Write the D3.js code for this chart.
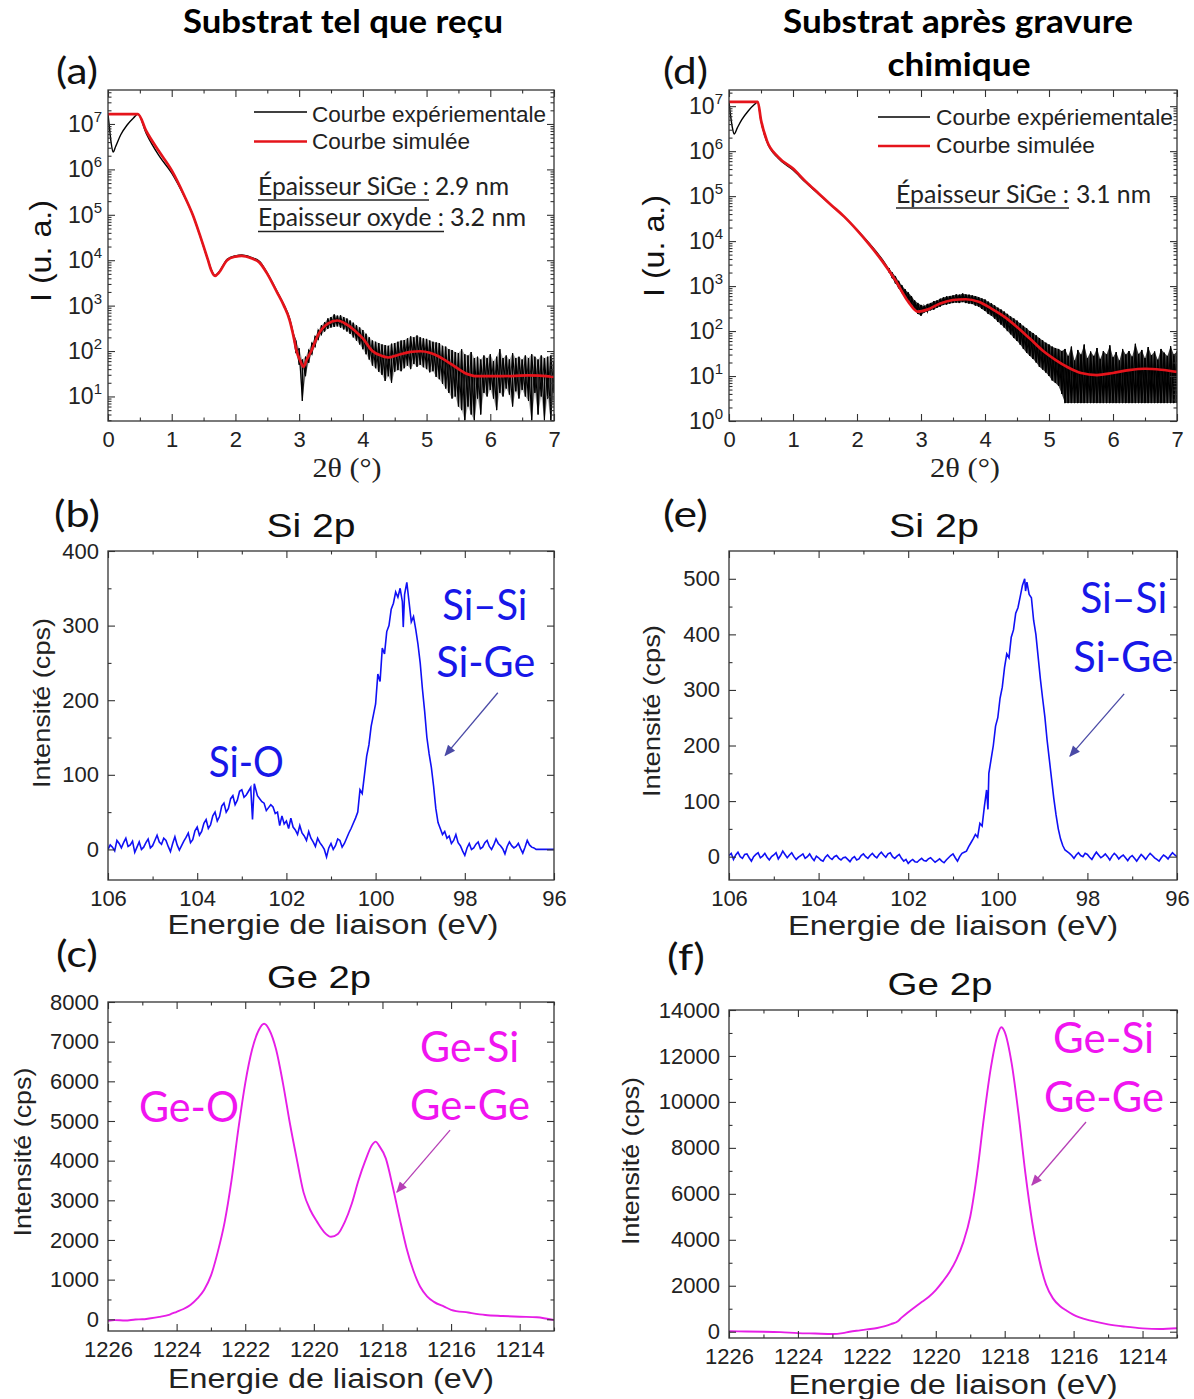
<!DOCTYPE html>
<html><head><meta charset="utf-8">
<script src="https://cdn.jsdelivr.net/npm/d3@7"></script>
<style>body{margin:0;background:#fff}svg{display:block}</style>
</head><body>
<svg id="fig" width="1194" height="1399"></svg>
<script>
// ================= DATA =================
// XRR ticks
const xrrTicksX = [0,1,2,3,4,5,6,7];
const xrrMinorX = [0.5,1.5,2.5,3.5,4.5,5.5,6.5];
const xrrTicksYA = [1e1,1e2,1e3,1e4,1e5,1e6,1e7];
const xrrTicksYD = [1e0,1e1,1e2,1e3,1e4,1e5,1e6,1e7];

// (a) XRR as received : simulated curve [2theta, I]
const simA = [[0,1.65e7],[0.47,1.65e7],[0.6,7e6],[0.8,2.5e6],[1.0,9.5e5],[1.2,2.6e5],[1.33,1.0e5],[1.45,3.3e4],[1.57,1.0e4],[1.62,6.0e3],[1.68,4.5e3],[1.74,5.3e3],[1.87,1.0e4],[2.0,1.2e4],[2.1,1.25e4],[2.25,1.1e4],[2.38,8.8e3],[2.5,5e3],[2.65,2.0e3],[2.76,1.0e3],[2.85,480],[2.9,250],[2.96,100],[3.02,60],[3.07,45],[3.12,65],[3.19,100],[3.3,230],[3.45,400],[3.6,470],[3.75,380],[3.9,260],[4.0,190],[4.15,100],[4.3,78],[4.4,72],[4.55,82],[4.75,96],[4.9,99],[5.05,92],[5.2,75],[5.4,50],[5.6,33],[5.8,28],[6.2,28],[6.6,29],[7.0,27]];
// (a) experimental, smooth part [2theta, I]
const expA = [[0,1.65e7],[0.02,9e6],[0.05,3.8e6],[0.08,2.4e6],[0.12,3.2e6],[0.2,5.8e6],[0.3,9.5e6],[0.4,1.35e7],[0.47,1.65e7],[0.6,6.2e6],[0.8,2.0e6],[1.0,8.3e5],[1.2,2.5e5],[1.33,1.0e5],[1.45,3.3e4],[1.57,1.0e4],[1.62,6.2e3],[1.68,4.6e3],[1.74,5.5e3],[1.87,1.05e4],[2.0,1.25e4],[2.1,1.3e4],[2.25,1.15e4],[2.38,9.4e3],[2.5,5.2e3],[2.65,2.1e3],[2.76,1.05e3],[2.85,520],[2.9,270]];
// (a) experimental, noisy part [2theta, low, high]
const expANoise = [[2.95,90,170],[3.0,50,115],[3.05,8,65],[3.1,28,75],[3.15,55,105],[3.2,85,150],[3.25,125,210],[3.3,180,290],[3.35,230,370],[3.4,270,430],[3.45,310,520],[3.5,330,560],[3.55,340,640],[3.6,350,600],[3.65,330,610],[3.7,300,560],[3.75,270,520],[3.8,240,470],[3.85,200,420],[3.9,170,370],[3.95,140,330],[4.0,110,290],[4.05,85,240],[4.1,65,200],[4.15,48,170],[4.2,42,160],[4.25,35,150],[4.3,30,140],[4.35,22,135],[4.4,28,130],[4.45,20,145],[4.5,35,150],[4.55,38,160],[4.6,36,170],[4.65,42,175],[4.7,48,190],[4.75,40,210],[4.8,52,200],[4.85,45,220],[4.9,50,200],[4.95,44,190],[5.0,40,185],[5.05,34,170],[5.1,36,160],[5.15,27,155],[5.2,24,150],[5.25,19,130],[5.3,15,125],[5.35,12,110],[5.4,9,105],[5.45,10,95],[5.5,6,90],[5.55,5,110],[5.6,3,85],[5.65,6,80],[5.7,4,95],[5.75,3,70],[5.8,9,75],[5.85,4,65],[5.9,12,80],[5.95,10,70],[6.0,14,85],[6.05,9,60],[6.1,5,75],[6.15,12,110],[6.2,10,70],[6.25,15,80],[6.3,11,65],[6.35,6,90],[6.4,13,70],[6.45,9,75],[6.5,14,65],[6.55,10,80],[6.6,8,70],[6.65,3,85],[6.7,12,75],[6.75,4,65],[6.8,10,80],[6.85,3,70],[6.9,9,75],[6.95,3,80],[7.0,12,60]];

// (d) XRR after etching
const simD = [[0,1.25e7],[0.45,1.25e7],[0.5,4.9e6],[0.59,1.74e6],[0.77,7.4e5],[1.0,4.1e5],[1.2,2.1e5],[1.4,1.15e5],[1.6,6.3e4],[1.8,3.5e4],[2.0,1.75e4],[2.2,8.1e3],[2.4,3.5e3],[2.6,1.35e3],[2.8,450],[2.95,270],[3.1,300],[3.3,410],[3.5,490],[3.7,510],[3.9,447],[4.1,316],[4.3,209],[4.5,123],[4.7,68],[4.9,37],[5.1,23],[5.3,15.5],[5.5,11.7],[5.75,10.5],[6.0,11.7],[6.25,13.5],[6.5,14.5],[6.75,13.8],[7.0,12.3]];
const expD = [[0,1.25e7],[0.02,7e6],[0.05,3.5e6],[0.08,2.4e6],[0.13,3.3e6],[0.2,5e6],[0.3,7.8e6],[0.4,1.1e7],[0.45,1.25e7],[0.5,4.7e6],[0.59,1.65e6],[0.77,6.9e5],[1.0,3.8e5],[1.2,2.0e5],[1.4,1.12e5],[1.6,6.2e4],[1.8,3.5e4],[2.0,1.8e4],[2.2,8.6e3],[2.4,3.8e3],[2.5,2.3e3]];
const expDNoise = [[2.5,2000,2500],[2.55,1500,2000],[2.6,1150,1650],[2.65,900,1300],[2.7,700,1050],[2.75,560,850],[2.8,450,720],[2.85,360,600],[2.9,300,480],[2.95,240,420],[3.0,220,380],[3.05,260,360],[3.1,270,400],[3.15,290,420],[3.2,300,460],[3.25,330,480],[3.3,350,520],[3.35,380,560],[3.4,390,590],[3.45,410,600],[3.5,420,620],[3.55,430,650],[3.6,420,640],[3.65,440,680],[3.7,420,650],[3.75,410,640],[3.8,400,620],[3.85,370,600],[3.9,350,570],[3.95,310,530],[4.0,280,500],[4.05,240,450],[4.1,220,410],[4.15,190,370],[4.2,160,330],[4.25,140,300],[4.3,120,270],[4.35,100,240],[4.4,85,210],[4.45,70,190],[4.5,60,170],[4.55,50,150],[4.6,40,130],[4.65,33,115],[4.7,28,100],[4.75,24,90],[4.8,20,80],[4.85,16,70],[4.9,14,62],[4.95,12,55],[5.0,10,50],[5.05,8,45],[5.1,7,42],[5.15,6,40],[5.2,4,36],[5.25,2.5,40],[5.3,2.5,28],[5.35,2.5,45],[5.4,2.5,22],[5.45,2.5,38],[5.5,2.5,30],[5.55,2.5,50],[5.6,2.5,25],[5.65,2.5,35],[5.7,2.5,28],[5.75,2.5,42],[5.8,2.5,24],[5.85,2.5,36],[5.9,2.5,30],[5.95,2.5,48],[6.0,2.5,26],[6.05,2.5,34],[6.1,2.5,22],[6.15,2.5,40],[6.2,2.5,30],[6.25,2.5,36],[6.3,2.5,27],[6.35,2.5,52],[6.4,2.5,31],[6.45,2.5,38],[6.5,2.5,25],[6.55,2.5,44],[6.6,2.5,29],[6.65,2.5,35],[6.7,2.5,23],[6.75,2.5,40],[6.8,2.5,33],[6.85,2.5,28],[6.9,2.5,46],[6.95,2.5,30],[7.0,2.5,35]];

// XPS Si 2p
const siTicksX = [106,104,102,100,98,96];
const siMinorX = [105,103,101,99,97];
const siTicksYB = [0,100,200,300,400];
const siTicksYE = [0,100,200,300,400,500];
const siSpectrumB = [[106.0,0],[105.95,6],[105.9,3],[105.85,-2],[105.8,12],[105.75,8],[105.7,2],[105.65,9],[105.6,15],[105.55,4],[105.5,6],[105.45,11],[105.4,-4],[105.35,3],[105.3,10],[105.25,0],[105.2,3],[105.15,9],[105.1,14],[105.05,2],[105.0,5],[104.95,12],[104.9,19],[104.85,10],[104.8,7],[104.75,15],[104.7,12],[104.65,4],[104.6,-3],[104.55,8],[104.5,17],[104.45,6],[104.4,-1],[104.35,5],[104.3,11],[104.25,16],[104.2,22],[104.15,9],[104.1,13],[104.05,25],[104.0,30],[103.95,19],[103.9,24],[103.85,35],[103.8,40],[103.75,28],[103.7,33],[103.65,45],[103.6,50],[103.55,38],[103.5,44],[103.45,58],[103.4,62],[103.35,50],[103.3,55],[103.25,68],[103.2,72],[103.15,60],[103.1,66],[103.05,78],[103.0,80],[102.95,70],[102.9,73],[102.85,78],[102.8,83],[102.76,40],[102.72,88],[102.65,72],[102.6,68],[102.55,64],[102.5,62],[102.45,52],[102.4,56],[102.35,60],[102.3,57],[102.25,48],[102.2,50],[102.15,32],[102.1,45],[102.05,34],[102.0,38],[101.95,28],[101.9,42],[101.85,30],[101.8,26],[101.75,20],[101.7,32],[101.65,22],[101.6,18],[101.55,12],[101.5,24],[101.45,15],[101.4,10],[101.35,4],[101.3,15],[101.25,9],[101.2,5],[101.15,0],[101.1,-10],[101.05,2],[101.0,8],[100.95,0],[100.9,5],[100.85,14],[100.8,12],[100.75,3],[100.7,8],[100.65,15],[100.6,22],[100.55,28],[100.5,35],[100.45,42],[100.4,50],[100.35,80],[100.3,75],[100.25,100],[100.2,125],[100.15,140],[100.1,165],[100.05,180],[100.0,195],[99.95,235],[99.9,225],[99.85,270],[99.8,262],[99.75,292],[99.7,300],[99.65,322],[99.6,330],[99.55,345],[99.5,338],[99.45,350],[99.4,332],[99.38,298],[99.35,342],[99.3,358],[99.25,332],[99.2,305],[99.15,312],[99.1,295],[99.05,275],[99.0,250],[98.95,215],[98.9,185],[98.85,150],[98.8,128],[98.75,110],[98.7,85],[98.65,55],[98.6,36],[98.55,28],[98.5,20],[98.45,24],[98.4,15],[98.35,18],[98.3,8],[98.25,12],[98.2,20],[98.15,9],[98.1,5],[98.05,-2],[98.0,-8],[97.95,2],[97.9,8],[97.85,0],[97.8,2],[97.75,7],[97.7,10],[97.65,1],[97.6,3],[97.55,9],[97.5,12],[97.45,4],[97.4,0],[97.35,6],[97.3,14],[97.25,8],[97.2,5],[97.15,1],[97.1,-6],[97.05,4],[97.0,10],[96.95,5],[96.9,2],[96.85,4],[96.8,8],[96.75,1],[96.7,-5],[96.65,3],[96.6,12],[96.55,6],[96.5,3],[96.45,2],[96.4,0],[96.0,0]];
const siSpectrumE = [[106.0,2],[105.95,6],[105.9,-5],[105.85,3],[105.8,8],[105.75,0],[105.7,-3],[105.65,4],[105.6,5],[105.55,-2],[105.5,-8],[105.45,0],[105.4,4],[105.35,7],[105.3,-2],[105.25,1],[105.2,6],[105.15,-1],[105.1,-6],[105.05,0],[105.0,3],[104.95,7],[104.9,-4],[104.85,2],[104.8,10],[104.75,4],[104.7,-2],[104.65,3],[104.6,7],[104.55,0],[104.5,-5],[104.45,-1],[104.4,2],[104.35,5],[104.3,-3],[104.25,0],[104.2,5],[104.15,-2],[104.1,-7],[104.05,1],[104.0,-2],[103.95,-6],[103.9,-8],[103.85,-1],[103.8,3],[103.75,-2],[103.7,-5],[103.65,0],[103.6,2],[103.55,-3],[103.5,-6],[103.45,-2],[103.4,-1],[103.35,-5],[103.3,-9],[103.25,-3],[103.2,0],[103.15,-6],[103.1,-4],[103.05,2],[103.0,5],[102.95,0],[102.9,-3],[102.85,2],[102.8,6],[102.75,1],[102.7,-2],[102.65,4],[102.6,8],[102.55,3],[102.5,-1],[102.45,5],[102.4,7],[102.35,0],[102.3,-3],[102.25,1],[102.2,4],[102.15,-3],[102.1,-8],[102.05,-5],[102.0,-12],[101.95,-8],[101.9,-5],[101.85,-9],[101.8,-10],[101.75,-6],[101.7,-3],[101.65,-7],[101.6,-8],[101.55,-4],[101.5,-2],[101.45,-6],[101.4,-10],[101.35,-7],[101.3,-4],[101.25,-8],[101.2,-11],[101.15,-6],[101.1,-2],[101.05,2],[101.0,5],[100.95,-2],[100.9,-8],[100.85,0],[100.8,6],[100.75,8],[100.7,10],[100.65,18],[100.6,25],[100.55,32],[100.5,40],[100.45,35],[100.4,60],[100.35,55],[100.3,90],[100.25,120],[100.22,85],[100.2,150],[100.15,175],[100.1,200],[100.05,235],[100.0,250],[99.95,285],[99.9,305],[99.85,340],[99.8,365],[99.75,358],[99.7,395],[99.65,408],[99.6,438],[99.55,448],[99.5,468],[99.45,488],[99.4,500],[99.38,478],[99.35,494],[99.3,472],[99.25,466],[99.2,425],[99.15,400],[99.1,360],[99.05,320],[99.0,285],[98.95,252],[98.9,210],[98.85,175],[98.8,140],[98.75,105],[98.7,75],[98.65,50],[98.6,32],[98.55,20],[98.5,12],[98.45,9],[98.4,6],[98.35,2],[98.3,-3],[98.25,3],[98.2,7],[98.15,2],[98.1,0],[98.05,6],[98.0,4],[97.95,-1],[97.9,-5],[97.85,2],[97.8,8],[97.75,3],[97.7,-2],[97.65,1],[97.6,5],[97.55,0],[97.5,-6],[97.45,1],[97.4,6],[97.35,2],[97.3,-4],[97.25,0],[97.2,3],[97.15,-2],[97.1,-7],[97.05,-1],[97.0,2],[96.95,-3],[96.9,-8],[96.85,-2],[96.8,4],[96.75,0],[96.7,-5],[96.65,1],[96.6,6],[96.55,2],[96.5,-2],[96.45,-5],[96.4,-8],[96.35,-2],[96.3,3],[96.25,0],[96.2,-4],[96.15,2],[96.1,7],[96.05,3],[96.0,0]];

// XPS Ge 2p
const geTicksX = [1226,1224,1222,1220,1218,1216,1214];
const geMinorX = [1225,1223,1221,1219,1217,1215,1213];
const geTicksYC = [0,1000,2000,3000,4000,5000,6000,7000,8000];
const geTicksYF = [0,2000,4000,6000,8000,10000,12000,14000];
const geSpectrumC = [[1226,-40],[1225.8,-20],[1225.5,-30],[1225.2,-5],[1225,0],[1224.8,20],[1224.5,60],[1224.2,120],[1224,190],[1223.8,260],[1223.6,360],[1223.4,520],[1223.2,740],[1223,1100],[1222.8,1700],[1222.6,2450],[1222.4,3500],[1222.2,4800],[1222,5950],[1221.8,6800],[1221.6,7300],[1221.45,7450],[1221.3,7300],[1221.1,6800],[1220.9,5950],[1220.7,4950],[1220.5,4050],[1220.3,3200],[1220.1,2750],[1219.9,2450],[1219.7,2200],[1219.5,2080],[1219.3,2150],[1219.1,2450],[1218.9,2900],[1218.7,3500],[1218.5,4000],[1218.3,4400],[1218.2,4480],[1218.1,4380],[1217.9,4050],[1217.7,3340],[1217.5,2550],[1217.3,1800],[1217.1,1230],[1216.9,820],[1216.7,580],[1216.5,440],[1216.2,320],[1216,240],[1215.5,170],[1215,110],[1214.5,85],[1214,65],[1213.5,50],[1213,-20]];
const geSpectrumF = [[1226,20],[1225.5,10],[1225,0],[1224.5,-20],[1224,-60],[1223.5,-80],[1223,-100],[1222.7,-60],[1222.5,0],[1222.2,60],[1222,100],[1221.7,160],[1221.5,230],[1221.3,330],[1221.1,460],[1221,600],[1220.8,850],[1220.6,1080],[1220.4,1300],[1220.2,1520],[1220,1810],[1219.8,2180],[1219.6,2600],[1219.4,3150],[1219.2,3900],[1219,5000],[1218.8,6900],[1218.6,9350],[1218.4,11500],[1218.2,12950],[1218.1,13250],[1218,13050],[1217.8,11700],[1217.6,9500],[1217.4,6900],[1217.2,4750],[1217,3150],[1216.8,2050],[1216.6,1450],[1216.4,1120],[1216.2,910],[1216,730],[1215.5,480],[1215,320],[1214.5,220],[1214,145],[1213.5,115],[1213,150]];

// annotation anchors in data units
const annB = {siSi:[97.55,307], siGe:[97.53,231], siO:[102.9,97], arrow:[[97.26,210],[98.44,126]]};
const annE = {siSi:[97.19,439], siGe:[97.2,333], arrow:[[97.18,293],[98.39,181]]};
const annC = {geSi:[1215.46,6481], geGe:[1215.45,5020], geO:[1223.64,4970], arrow:[[1216.03,4768],[1217.58,3207]]};
const annF = {geSi:[1215.13,12128], geGe:[1215.12,9560], arrow:[[1215.64,9125],[1217.21,6384]]};

// ================= DRAWING =================
const svg = d3.select("#fig");
const SANS = "'Liberation Sans', Arial, Helvetica, sans-serif";
const CAL = "Lato, 'Open Sans', sans-serif";
const SERIF = "'Liberation Serif', 'Times New Roman', serif";
const defs = svg.append("defs");

function txt(x,y,s,o={}){
  const t = svg.append("text").attr("x",x).attr("y",y).text(s)
    .attr("font-family",o.ff||SANS).attr("font-size",o.fs||21)
    .attr("fill",o.fill||"#111").attr("text-anchor",o.anchor||"start");
  if(o.fw) t.attr("font-weight",o.fw);
  if(o.len) t.attr("textLength",o.len).attr("lengthAdjust","spacingAndGlyphs");
  if(o.rot) t.attr("transform",`rotate(-90,${x},${y})`);
  return t;
}

function panel(o){
  const x = d3.scaleLinear().domain(o.xd).range([o.l,o.r]);
  const y = (o.log?d3.scaleLog():d3.scaleLinear()).domain(o.yd).range([o.b,o.t]);
  defs.append("clipPath").attr("id","clip"+o.id).append("rect")
    .attr("x",o.l).attr("y",o.t).attr("width",o.r-o.l).attr("height",o.b-o.t);
  const plot = svg.append("g").attr("clip-path",`url(#clip${o.id})`);
  return {x,y,plot,o};
}

function axes(P){
  const {x,y,o} = P;
  const g = svg.append("g");
  const mk = (axis,tr,vals,size,lab,pad,fmt)=>{
    const a = g.append("g").attr("transform",tr)
      .call(axis.tickValues(vals).tickSizeInner(-size).tickSizeOuter(0)
        .tickPadding(lab?pad:0).tickFormat(lab?fmt:()=>""));
    a.select(".domain").remove();
    a.selectAll(".tick line").attr("stroke","#333").attr("stroke-width",1.1);
    a.selectAll("text").attr("font-family",SANS).attr("font-size",22).attr("fill","#222");
    return a;
  };
  const fmt = d3.format("d");
  mk(d3.axisBottom(x),`translate(0,${o.b})`,o.xt,7,true,10,fmt);
  mk(d3.axisBottom(x),`translate(0,${o.b})`,o.xm,3.5,false);
  mk(d3.axisTop(x),`translate(0,${o.t})`,o.xt,7,false);
  mk(d3.axisTop(x),`translate(0,${o.t})`,o.xm,3.5,false);
  let ym;
  if(o.log){
    ym = y.ticks().filter(v=>Math.abs(Math.log10(v)-Math.round(Math.log10(v)))>1e-6);
  } else ym = o.ym;
  const la = mk(d3.axisLeft(y),`translate(${o.l},0)`,o.yt,7,true,o.log?6:9,fmt);
  mk(d3.axisLeft(y),`translate(${o.l},0)`,ym,3.5,false);
  mk(d3.axisRight(y),`translate(${o.r},0)`,o.yt,7,false);
  mk(d3.axisRight(y),`translate(${o.r},0)`,ym,3.5,false);
  if(o.log){
    la.selectAll(".tick text").each(function(d){
      const t = d3.select(this); const e = Math.round(Math.log10(d));
      t.text(null).attr("font-size",23);
      t.append("tspan").text("10");
      t.append("tspan").attr("dy",-10).attr("font-size",15).text(e);
    });
  }
  svg.append("rect").attr("x",o.l).attr("y",o.t).attr("width",o.r-o.l).attr("height",o.b-o.t)
    .attr("fill","none").attr("stroke","#333").attr("stroke-width",1.3);
}

function marker(id,color){
  defs.append("marker").attr("id",id).attr("viewBox","0 0 10 10").attr("refX",9).attr("refY",5)
    .attr("markerWidth",12).attr("markerHeight",11).attr("markerUnits","userSpaceOnUse")
    .attr("orient","auto").append("path").attr("d","M0,0.8 L10,5 L0,9.2 z").attr("fill",color);
}
marker("arrB","#4a4aa6");
marker("arrM","#b640b6");

function arrow(P,a,color,mid){
  svg.append("line").attr("x1",P.x(a[0][0])).attr("y1",P.y(a[0][1]))
    .attr("x2",P.x(a[1][0])).attr("y2",P.y(a[1][1]))
    .attr("stroke",color).attr("stroke-width",1.3).attr("marker-end",`url(#${mid})`);
}
function ann(P,pos,s,color,len){
  txt(P.x(pos[0]),P.y(pos[1]),s,{ff:CAL,fs:42,fill:color,anchor:"middle",len:len});
}

const smooth = (P)=>d3.line().x(d=>P.x(d[0])).y(d=>P.y(d[1])).curve(d3.curveMonotoneX);
const straight = (P)=>d3.line().x(d=>P.x(d[0])).y(d=>P.y(d[1]));
// noise drawn as min/max spikes, both directions (cross-hatched like dense raw data)
const noiseUp = (start,arr)=>[start].concat(arr.flatMap(d=>[[d[0],d[1]],[d[0],d[2]]]));
const noiseDown = (start,arr)=>[start].concat(arr.flatMap(d=>[[d[0],d[2]],[d[0],d[1]]]));
function drawNoise(P,start,arr,w,fillOp){
  if(fillOp){
    P.plot.append("path").attr("d",d3.area().x(d=>P.x(d[0])).y0(d=>P.y(d[1])).y1(d=>P.y(d[2]))(arr))
      .attr("fill","#000").attr("opacity",fillOp);
  }
  P.plot.append("path").attr("d",straight(P)(noiseUp(start,arr))).attr("fill","none").attr("stroke","#000").attr("stroke-width",w);
  P.plot.append("path").attr("d",straight(P)(noiseDown(start,arr))).attr("fill","none").attr("stroke","#000").attr("stroke-width",w*0.8);
}

// ---------- Panel (a) ----------
const A = panel({id:"a",l:108,r:554,t:90,b:421,xd:[0,7],yd:[2.88,5.6e7],log:true,
  xt:xrrTicksX,xm:xrrMinorX,yt:xrrTicksYA});
A.plot.append("path").attr("d",smooth(A)(expA)).attr("fill","none").attr("stroke","#000").attr("stroke-width",1.4);
drawNoise(A,expA[expA.length-1],expANoise,1.1,0.3);
A.plot.append("path").attr("d",smooth(A)(simA)).attr("fill","none").attr("stroke","#e5141b").attr("stroke-width",2.7);
axes(A);

// ---------- Panel (d) ----------
const D = panel({id:"d",l:729,r:1177,t:90,b:421,xd:[0,7],yd:[1,2.29e7],log:true,
  xt:xrrTicksX,xm:xrrMinorX,yt:xrrTicksYD});
D.plot.append("path").attr("d",smooth(D)(expD)).attr("fill","none").attr("stroke","#000").attr("stroke-width",1.4);
drawNoise(D,expD[expD.length-1],expDNoise,1.2,0.75);
D.plot.append("path").attr("d",smooth(D)(simD)).attr("fill","none").attr("stroke","#e5141b").attr("stroke-width",2.7);
axes(D);

// ---------- Panel (b) ----------
const B = panel({id:"b",l:108,r:554,t:551,b:880,xd:[106,96],yd:[-41,400],
  xt:siTicksX,xm:siMinorX,yt:siTicksYB,ym:[50,150,250,350]});
B.plot.append("path").attr("d",straight(B)(siSpectrumB)).attr("fill","none").attr("stroke","#1010f5").attr("stroke-width",1.6);
axes(B);

// ---------- Panel (e) ----------
const E = panel({id:"e",l:729,r:1177,t:551,b:880,xd:[106,96],yd:[-42,550],
  xt:siTicksX,xm:siMinorX,yt:siTicksYE,ym:[50,150,250,350,450]});
E.plot.append("path").attr("d",straight(E)(siSpectrumE)).attr("fill","none").attr("stroke","#1010f5").attr("stroke-width",1.6);
axes(E);

// ---------- Panel (c) ----------
const C = panel({id:"c",l:108,r:554,t:1002,b:1331,xd:[1226,1213],yd:[-295,8000],
  xt:geTicksX,xm:geMinorX,yt:geTicksYC,ym:[500,1500,2500,3500,4500,5500,6500,7500]});
C.plot.append("path").attr("d",smooth(C)(geSpectrumC)).attr("fill","none").attr("stroke","#e61ee6").attr("stroke-width",1.9);
axes(C);

// ---------- Panel (f) ----------
const F = panel({id:"f",l:729,r:1177,t:1010,b:1338,xd:[1226,1213],yd:[-274,14000],
  xt:geTicksX,xm:geMinorX,yt:geTicksYF,ym:[1000,3000,5000,7000,9000,11000,13000]});
F.plot.append("path").attr("d",smooth(F)(geSpectrumF)).attr("fill","none").attr("stroke","#e61ee6").attr("stroke-width",1.9);
axes(F);

// ================= TEXT =================
// column titles
txt(343,33,"Substrat tel que reçu",{ff:CAL,fs:32,fw:700,anchor:"middle",len:320,fill:"#000"});
txt(958,33,"Substrat après gravure",{ff:CAL,fs:32,fw:700,anchor:"middle",len:350,fill:"#000"});
txt(959,76,"chimique",{ff:CAL,fs:32,fw:700,anchor:"middle",len:143,fill:"#000"});

// panel letters
txt(56,84,"(a)",{ff:CAL,fs:36,len:42});
txt(663,84,"(d)",{ff:CAL,fs:36,len:45});
txt(54,527,"(b)",{ff:CAL,fs:36,len:46});
txt(663,527,"(e)",{ff:CAL,fs:36,len:45});
txt(56,967,"(c)",{ff:CAL,fs:36,len:42});
txt(667,970,"(f)",{ff:CAL,fs:36,len:38});

// XRR axis titles
txt(51,251,"I (u. a.)",{fs:30,anchor:"middle",rot:true,len:102});
txt(664,246,"I (u. a.)",{fs:30,anchor:"middle",rot:true,len:102});
txt(347,477,"2θ (°)",{ff:SERIF,fs:27,anchor:"middle",len:69,fill:"#222"});
txt(965,477,"2θ (°)",{ff:SERIF,fs:27,anchor:"middle",len:70,fill:"#222"});

// legends (a)
svg.append("line").attr("x1",254).attr("x2",307).attr("y1",112).attr("y2",112).attr("stroke","#000").attr("stroke-width",1.4);
txt(312,121.5,"Courbe expériementale",{fs:22,len:234,fill:"#222"});
svg.append("line").attr("x1",254).attr("x2",307).attr("y1",141.5).attr("y2",141.5).attr("stroke","#e5141b").attr("stroke-width",2.7);
txt(312,148.5,"Courbe simulée",{fs:22,len:158,fill:"#222"});
txt(258,195,"Épaisseur SiGe :",{ff:CAL,fs:25,len:171,fill:"#222"});
svg.append("line").attr("x1",258).attr("x2",429).attr("y1",200).attr("y2",200).attr("stroke","#222").attr("stroke-width",1.5);
txt(435,195,"2.9 nm",{ff:CAL,fs:25,len:74,fill:"#222"});
txt(258,226,"Epaisseur oxyde :",{ff:CAL,fs:25,len:186,fill:"#222"});
svg.append("line").attr("x1",258).attr("x2",444).attr("y1",231.5).attr("y2",231.5).attr("stroke","#222").attr("stroke-width",1.5);
txt(450,226,"3.2 nm",{ff:CAL,fs:25,len:76,fill:"#222"});

// legends (d)
svg.append("line").attr("x1",878).attr("x2",930).attr("y1",117).attr("y2",117).attr("stroke","#000").attr("stroke-width",1.4);
txt(936,125,"Courbe expériementale",{fs:22,len:237,fill:"#222"});
svg.append("line").attr("x1",878).attr("x2",930).attr("y1",146).attr("y2",146).attr("stroke","#e5141b").attr("stroke-width",2.7);
txt(936,153,"Courbe simulée",{fs:22,len:159,fill:"#222"});
txt(896,203,"Épaisseur SiGe :",{ff:CAL,fs:25,len:173,fill:"#222"});
svg.append("line").attr("x1",896).attr("x2",1069).attr("y1",208).attr("y2",208).attr("stroke","#222").attr("stroke-width",1.5);
txt(1076,203,"3.1 nm",{ff:CAL,fs:25,len:75,fill:"#222"});

// XPS titles
txt(311,537,"Si 2p",{fs:33,anchor:"middle",len:89});
txt(934,537,"Si 2p",{fs:33,anchor:"middle",len:90});
txt(319,988,"Ge 2p",{fs:32,anchor:"middle",len:104});
txt(940,995,"Ge 2p",{fs:32,anchor:"middle",len:105});

// XPS axis titles
txt(333,934,"Energie de liaison (eV)",{fs:27,anchor:"middle",len:331,fill:"#222"});
txt(953,935,"Energie de liaison (eV)",{fs:27,anchor:"middle",len:330,fill:"#222"});
txt(331,1388,"Energie de liaison (eV)",{fs:27,anchor:"middle",len:326,fill:"#222"});
txt(953,1394,"Energie de liaison (eV)",{fs:27,anchor:"middle",len:329,fill:"#222"});
txt(49.5,703,"Intensité (cps)",{fs:24,anchor:"middle",rot:true,len:170,fill:"#222"});
txt(659.5,711,"Intensité (cps)",{fs:24,anchor:"middle",rot:true,len:172,fill:"#222"});
txt(31,1152,"Intensité (cps)",{fs:24,anchor:"middle",rot:true,len:169,fill:"#222"});
txt(638.5,1161,"Intensité (cps)",{fs:24,anchor:"middle",rot:true,len:168,fill:"#222"});

// annotations
const BLUE="#1717e8", MAG="#f014f0";
ann(B,annB.siSi,"Si–Si",BLUE,85);
ann(B,annB.siGe,"Si-Ge",BLUE,99);
ann(B,annB.siO,"Si-O",BLUE,75);
arrow(B,annB.arrow,"#4a4aa6","arrB");
ann(E,annE.siSi,"Si–Si",BLUE,87);
ann(E,annE.siGe,"Si-Ge",BLUE,100);
arrow(E,annE.arrow,"#4a4aa6","arrB");
ann(C,annC.geSi,"Ge-Si",MAG,99);
ann(C,annC.geGe,"Ge-Ge",MAG,120);
ann(C,annC.geO,"Ge-O",MAG,100);
arrow(C,annC.arrow,"#b640b6","arrM");
ann(F,annF.geSi,"Ge-Si",MAG,101);
ann(F,annF.geGe,"Ge-Ge",MAG,120);
arrow(F,annF.arrow,"#b640b6","arrM");
</script>
</body></html>
